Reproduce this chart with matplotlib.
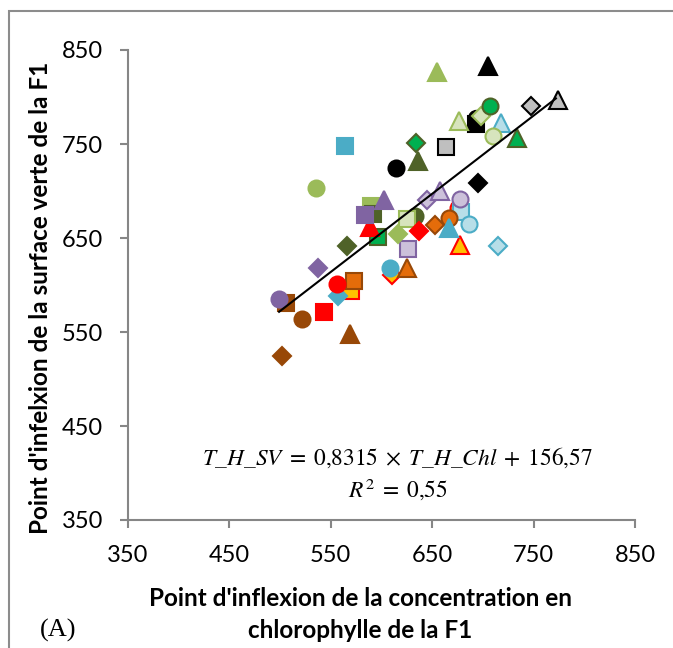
import matplotlib
matplotlib.use("Agg")
import matplotlib.pyplot as plt
from matplotlib.patches import Rectangle

plt.rcParams["mathtext.fontset"] = "stix"

# Series: (name, face colour, edge colour); each series has diamond, square, triangle, circle
series_names = ["brun", "rouge", "or", "orange", "cyan", "bleu clair", "lavande", "violet",
                "olive", "vert clair", "vert pâle", "vert", "noir", "gris"]
face_colors = ["#984807", "#FF0000", "#FFC000", "#E46C0A", "#4BACC6", "#B7DEE8", "#CCC1DA", "#8064A2",
               "#4F6228", "#9BBB59", "#D7E4BD", "#00B050", "#000000", "#BFBFBF"]
edge_colors = ["#984807", "#FF0000", "#FF0000", "#984807", "#4BACC6", "#4BACC6", "#8064A2", "#8064A2",
               "#4F6228", "#9BBB59", "#9BBB59", "#4F6228", "#000000", "#000000"]

# x = inflexion chlorophylle, y = inflexion surface verte (None = not visible)
diamond_x = [502, 637, 610, 653, 557, 715, 645, 537, 566, 616, 698, 634, 695, 747]
diamond_y = [524, 657, 611, 664, 588, 642, 690, 618, 641, 654, 780, 751, 708, 790]
square_x = [506, 543, 570, 573, 564, 678, 626, 584, 592, 590, 625, 597, 693, 664]
square_y = [581, 571, 594, 604, 748, 678, 638, 675, 676, 684, 670, 651, 771, 747]
triangle_x = [569, 589, 677, 625, 667, 718, 658, 602, 636, 655, 676, 734, 705, 774]
triangle_y = [548, 662, 643, 618, 661, 772, 700, 690, 732, 827, 774, 756, 833, 797]
circle_x = [522, 556, 675, 667, 608, 686, 677, 499, 633, 535, 710, 707, 614, None]
circle_y = [564, 601, 682, 671, 618, 665, 692, 585, 673, 703, 759, 790, 725, None]
extra_black_circle_x = [693]
extra_black_circle_y = [778]

slope = 0.8315
intercept = 156.57
fit_x = [499, 772]

x_ticks = [350, 450, 550, 650, 750, 850]
y_ticks = [350, 450, 550, 650, 750, 850]

draw_order = [0, 2, 5, 3, 4, 6, 9, 8, 12, 13, 10, 11, 1, 7]

fig = plt.figure(figsize=(6.73, 6.48), dpi=100)
fig.patches.append(Rectangle((9/673, -0.05), 1.2, 1.05 - 11/648, transform=fig.transFigure,
                             fill=False, edgecolor="#8C8C8C", linewidth=1.5))
ax = fig.add_axes([128/673, 1 - 520/648, 507/673, 470/648])

ms = {"D": 9.3, "s": 12, "^": 13.5, "o": 11.5}
ax.plot(extra_black_circle_x, extra_black_circle_y, marker="o", linestyle="none",
        markersize=ms["o"], color="#000000", zorder=3)
for i in draw_order:
    for mk, xs, ys in [("D", diamond_x, diamond_y), ("s", square_x, square_y),
                       ("^", triangle_x, triangle_y), ("o", circle_x, circle_y)]:
        if xs[i] is None:
            continue
        ax.plot(xs[i], ys[i], marker=mk, linestyle="none", markersize=ms[mk],
                markerfacecolor=face_colors[i], markeredgecolor=edge_colors[i],
                markeredgewidth=1.5, zorder=3)

fit_y = [slope * v + intercept for v in fit_x]
ax.plot(fit_x, fit_y, color="black", linewidth=1.5, zorder=4)

ax.set_xlim(350, 850)
ax.set_ylim(350, 850)
ax.set_xticks(x_ticks)
ax.set_yticks(y_ticks)
for s in ["top", "right"]:
    ax.spines[s].set_visible(False)
for s in ["left", "bottom"]:
    ax.spines[s].set_color("#868686")
    ax.spines[s].set_linewidth(1.5)
ax.tick_params(direction="out", length=6, width=1.5, color="#868686", labelsize=17)
ax.tick_params(axis="y", pad=12)
ax.tick_params(axis="x", pad=12)
for lab in ax.get_xticklabels() + ax.get_yticklabels():
    lab.set_fontfamily("Lato")

ax.text(0.5325, 0.132, r"$T\_H\_SV\;=\;0{,}8315\;\times\;T\_H\_Chl\;+\;156{,}57$", transform=ax.transAxes,
        ha="center", va="center", fontsize=16.8)
ax.text(0.5325, 0.066, r"$R^2\;=\;0{,}55$", transform=ax.transAxes,
        ha="center", va="center", fontsize=16.8)

ax.set_ylabel("Point d'infelxion de la surface verte de la F1", fontsize=17.5,
              fontweight="bold", family="Lato")
ax.yaxis.set_label_coords(-0.150, 0.472)
ax.set_xlabel("Point d'inflexion de la concentration en\nchlorophylle de la F1", fontsize=17.5,
              fontweight="bold", family="Lato", linespacing=1.45)
ax.xaxis.set_label_coords(0.4576, -0.143)
fig.text(40/673, 1 - 630/648, "(A)", fontsize=19, family="Liberation Serif", va="center")

fig.savefig("out.png", dpi=100)
